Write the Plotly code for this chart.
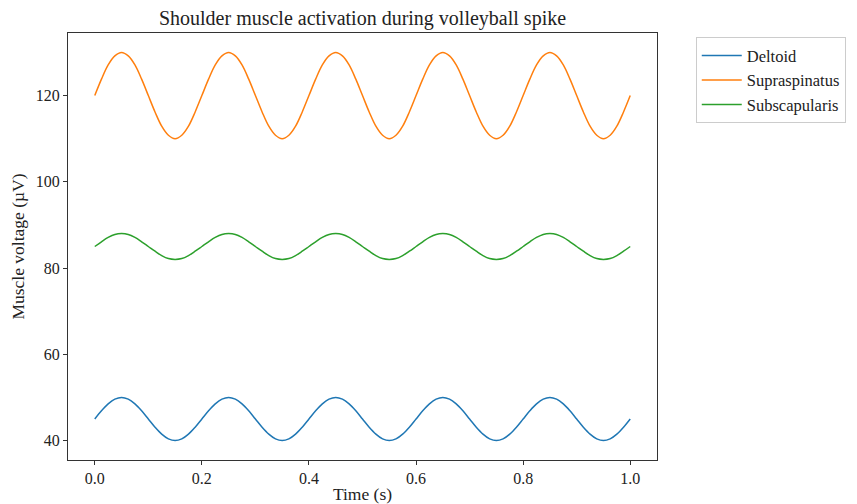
import plotly.graph_objects as go

time_s = [0.0, 0.0125, 0.025, 0.0375, 0.05, 0.0625, 0.075, 0.0875, 0.1, 0.1125, 0.125, 0.1375, 0.15, 0.1625, 0.175, 0.1875,
          0.2, 0.2125, 0.225, 0.2375, 0.25, 0.2625, 0.275, 0.2875, 0.3, 0.3125, 0.325, 0.3375, 0.35, 0.3625, 0.375, 0.3875,
          0.4, 0.4125, 0.425, 0.4375, 0.45, 0.4625, 0.475, 0.4875, 0.5, 0.5125, 0.525, 0.5375, 0.55, 0.5625, 0.575, 0.5875,
          0.6, 0.6125, 0.625, 0.6375, 0.65, 0.6625, 0.675, 0.6875, 0.7, 0.7125, 0.725, 0.7375, 0.75, 0.7625, 0.775, 0.7875,
          0.8, 0.8125, 0.825, 0.8375, 0.85, 0.8625, 0.875, 0.8875, 0.9, 0.9125, 0.925, 0.9375, 0.95, 0.9625, 0.975, 0.9875,
          1.0]

deltoid = [45, 46.9, 48.5, 49.6, 50, 49.6, 48.5, 46.9, 45, 43.1, 41.5, 40.4, 40, 40.4, 41.5, 43.1,
           45, 46.9, 48.5, 49.6, 50, 49.6, 48.5, 46.9, 45, 43.1, 41.5, 40.4, 40, 40.4, 41.5, 43.1,
           45, 46.9, 48.5, 49.6, 50, 49.6, 48.5, 46.9, 45, 43.1, 41.5, 40.4, 40, 40.4, 41.5, 43.1,
           45, 46.9, 48.5, 49.6, 50, 49.6, 48.5, 46.9, 45, 43.1, 41.5, 40.4, 40, 40.4, 41.5, 43.1,
           45, 46.9, 48.5, 49.6, 50, 49.6, 48.5, 46.9, 45, 43.1, 41.5, 40.4, 40, 40.4, 41.5, 43.1,
           45]

supraspinatus = [120, 123.8, 127.1, 129.2, 130, 129.2, 127.1, 123.8, 120, 116.2, 112.9, 110.8, 110, 110.8, 112.9, 116.2,
                 120, 123.8, 127.1, 129.2, 130, 129.2, 127.1, 123.8, 120, 116.2, 112.9, 110.8, 110, 110.8, 112.9, 116.2,
                 120, 123.8, 127.1, 129.2, 130, 129.2, 127.1, 123.8, 120, 116.2, 112.9, 110.8, 110, 110.8, 112.9, 116.2,
                 120, 123.8, 127.1, 129.2, 130, 129.2, 127.1, 123.8, 120, 116.2, 112.9, 110.8, 110, 110.8, 112.9, 116.2,
                 120, 123.8, 127.1, 129.2, 130, 129.2, 127.1, 123.8, 120, 116.2, 112.9, 110.8, 110, 110.8, 112.9, 116.2,
                 120]

subscapularis = [85, 86.1, 87.1, 87.8, 88, 87.8, 87.1, 86.1, 85, 83.9, 82.9, 82.2, 82, 82.2, 82.9, 83.9,
                 85, 86.1, 87.1, 87.8, 88, 87.8, 87.1, 86.1, 85, 83.9, 82.9, 82.2, 82, 82.2, 82.9, 83.9,
                 85, 86.1, 87.1, 87.8, 88, 87.8, 87.1, 86.1, 85, 83.9, 82.9, 82.2, 82, 82.2, 82.9, 83.9,
                 85, 86.1, 87.1, 87.8, 88, 87.8, 87.1, 86.1, 85, 83.9, 82.9, 82.2, 82, 82.2, 82.9, 83.9,
                 85, 86.1, 87.1, 87.8, 88, 87.8, 87.1, 86.1, 85, 83.9, 82.9, 82.2, 82, 82.2, 82.9, 83.9,
                 85]

series_names = ["Deltoid", "Supraspinatus", "Subscapularis"]
series_values = [deltoid, supraspinatus, subscapularis]
colors = ["#1f77b4", "#ff7f0e", "#2ca02c"]

x_ticks = [0.0, 0.2, 0.4, 0.6, 0.8, 1.0]
x_tick_labels = ["0.0", "0.2", "0.4", "0.6", "0.8", "1.0"]
y_ticks = [40, 60, 80, 100, 120]

fig = go.Figure()
for name, vals, c in zip(series_names, series_values, colors):
    fig.add_trace(go.Scatter(x=time_s, y=vals, mode="lines", name=name, legendgroup=name,
                             line=dict(color=c, width=1.5, shape="spline")))

font_family = "Liberation Serif, Times New Roman, serif"
axis_common = dict(showline=True, linecolor="#333333", linewidth=1, mirror=True,
                   ticks="outside", ticklen=4, tickcolor="#333333", showgrid=False,
                   zeroline=False, tickfont=dict(size=16, color="#222222"))

fig.update_layout(
    width=857, height=504,
    margin=dict(l=68, r=199, t=33, b=44),
    paper_bgcolor="white", plot_bgcolor="white",
    font=dict(family=font_family, color="#222222", size=16),
    title=dict(text="Shoulder muscle activation during volleyball spike",
               x=0.5, xref="paper", xanchor="center", y=1 - 18/504, yanchor="middle",
               font=dict(size=20)),
    xaxis=dict(range=[-0.05, 1.05], tickvals=x_ticks, ticktext=x_tick_labels, automargin=False,
               title=dict(text="Time (s)", font=dict(size=17.5)), **axis_common),
    yaxis=dict(range=[35.5, 134.5], tickvals=y_ticks, automargin=True,
               title=dict(text="Muscle voltage (µV)", standoff=6, font=dict(size=17.5)), **axis_common),
    legend=dict(x=1.064, y=0.99, xanchor="left", yanchor="top",
                bordercolor="#cccccc", borderwidth=1, bgcolor="white",
                font=dict(size=16.5), tracegroupgap=0, itemwidth=40),
    showlegend=True,
)

fig.write_html("out.html")
